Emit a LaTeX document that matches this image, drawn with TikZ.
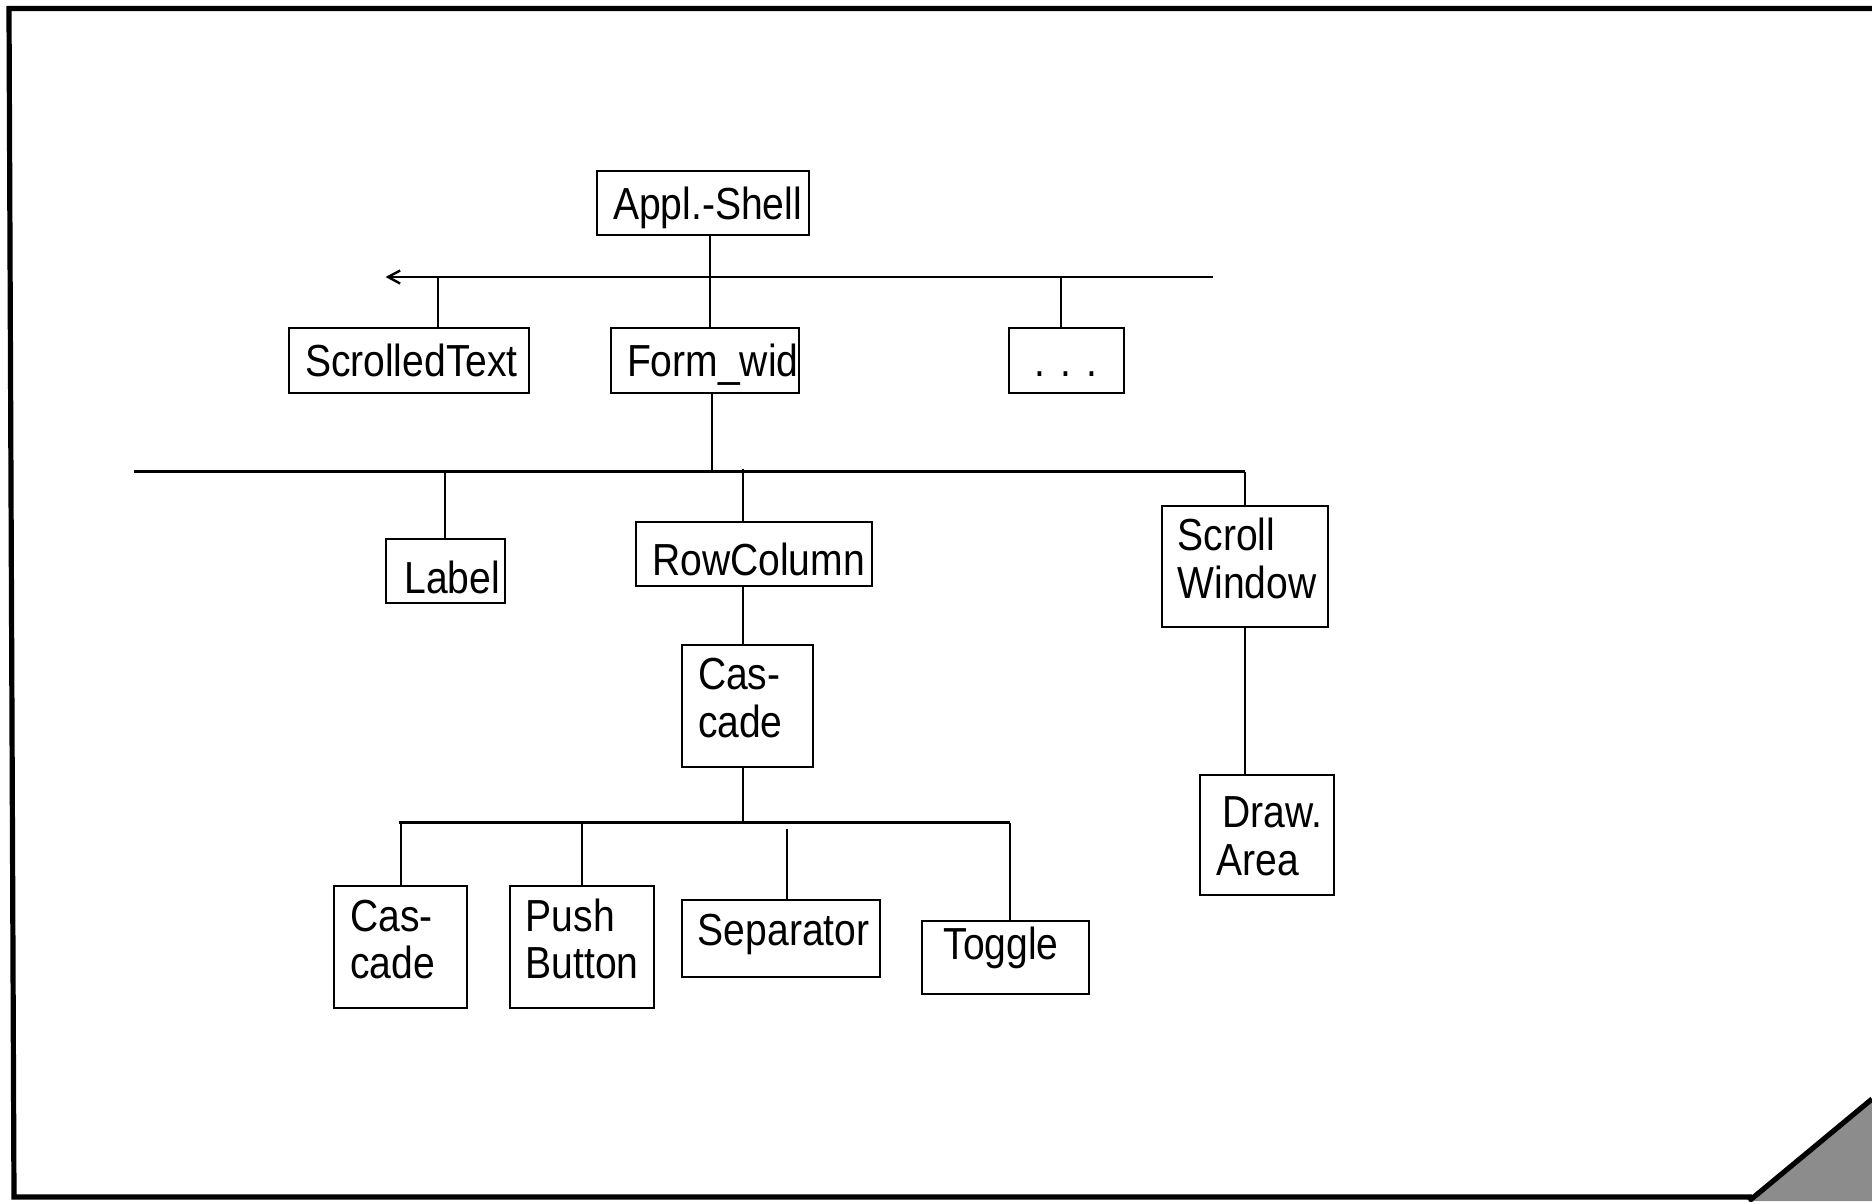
\documentclass[tikz,border=0pt]{standalone}
\usepackage{fontspec}
\setmainfont{Liberation Sans}[FakeStretch=0.87]
\usetikzlibrary{arrows.meta}
\newcommand\wfont{\fontsize{22.45pt}{23.9pt}\selectfont\hyphenpenalty=10000\exhyphenpenalty=10000}

\begin{document}
\begin{tikzpicture}[x=0.5pt,y=0.5pt,yscale=-1,xscale=1,
  wbox/.style={draw, line width=1pt, align=left, font=\wfont, inner xsep=8pt, inner ysep=0pt,
    text height=16.4pt, text depth=0.3pt},
  twol/.style={text depth=32.3pt},
  tline/.style={line width=1pt},
  bus/.style={line width=1.2pt}]
  \useasboundingbox (0,0) rectangle (1872,1201);

  %Shape: Frame
  \draw [line width=2.6pt] (1872,8.5) -- (9,8.5) -- (14,1197) -- (1752,1197) ;
  %Shape: folded corner
  \fill [color={rgb, 255:red, 140; green, 140; blue, 140 }] (1749,1201) -- (1872,1099) -- (1872,1201) -- cycle ;
  \draw [line width=2.6pt] (1749,1201) -- (1872,1099) ;

  % Text Node
  \node [wbox, text width=90pt, minimum height=32.25pt] (appl) at (703,203) {Appl.-Shell};
  \node [wbox, text width=104pt, minimum height=32.5pt] (scrolled) at (409,360.5) {ScrolledText};
  \node [wbox, text width=78pt, minimum height=32.5pt] (form) at (705,360.5) {Form\_wid};
  \node [wbox, text width=41.5pt, minimum height=32.5pt, align=center] (dots) at (1066,360.5) {.\ .\ .};
  \node [wbox, text width=43.5pt, minimum height=32.25pt, text height=23pt] (label) at (445,571) {\hspace*{1.5pt}Label};
  \node [wbox, text width=101.75pt, minimum height=32pt, text height=21.8pt] (rowcol) at (754,554) {RowColumn};
  \node [wbox, twol, text width=67pt, minimum height=60.5pt] (scrollw) at (1244.6,566.5) {Scroll\\Window};
  \node [wbox, text width=50.8pt, minimum height=60.25pt, text depth=24.2pt] (drawa) at (1267,835) {\hspace*{3pt}Draw.\\Area};
  \node [wbox, twol, text width=49.5pt, minimum height=61pt] (casc) at (747.5,705.6) {Cas-\\cade};
  \node [wbox, twol, text width=50.25pt, minimum height=61pt] (cascb) at (400.5,947) {Cas-\\cade};
  \node [wbox, twol, text width=56.25pt, minimum height=61pt] (push) at (582,947) {Push\\Button};
  \node [wbox, text width=83pt, minimum height=38.2pt, text depth=9.3pt] (sep) at (780.8,938.3) {Separator};
  \node [wbox, text width=67.5pt, minimum height=36.5pt, text depth=13.5pt] (toggle) at (1005,957) {\hspace*{3pt}Toggle};

  %Straight Lines
  \coordinate (b1l) at (385.6,277);
  \coordinate (b1r) at (1213,277);
  \coordinate (b2l) at (133.7,471.6);
  \coordinate (b2r) at (1245,471.6);
  \coordinate (b3l) at (398.8,822.6);
  \coordinate (b3r) at (1010,822.6);
  \coordinate (st1) at ([xshift=14.5pt]scrolled.north);
  \coordinate (st2) at ([xshift=3.5pt]appl.south);
  \coordinate (st3) at ([xshift=3.5pt]form.south);
  \coordinate (st4) at ([xshift=-2.5pt]dots.north);
  \coordinate (st5) at ([xshift=-2.5pt]casc.north);
  \coordinate (st6) at ([xshift=3pt]sep.north);
  \coordinate (st7) at ([xshift=2.5pt]toggle.north);

  \draw [bus, -{Straight Barb[length=6pt,width=6.5pt]}] (b1r) -- (b1l) ;
  \draw [bus] (b2l) -- (b2r) ;
  \draw [bus] (b3l) -- (b3r) ;

  \draw [tline] (st2) -- (st2 |- form.north) ;
  \draw [tline] (st1) -- (st1 |- b1l) ;
  \draw [tline] (st4) -- (st4 |- b1l) ;
  \draw [tline] (st3) -- (st3 |- b2l) ;
  \draw [tline] (label.north) -- (label.north |- b2l) ;
  \draw [tline] (st5 |- rowcol.north) -- (st5 |- b2l) -- ++(0,-3) ;
  \draw [tline] (scrollw.north) -- (scrollw.north |- b2r) ;
  \draw [tline] (st5 |- rowcol.south) -- (st5) ;
  \draw [tline] (scrollw.south) -- (scrollw.south |- drawa.north) ;
  \draw [tline] (st5 |- casc.south) -- (st5 |- b3l) ;
  \draw [tline] (cascb.north) -- (cascb.north |- b3l) ;
  \draw [tline] (push.north) -- (push.north |- b3l) ;
  \draw [tline] (st6) -- ++(0,-70) ;
  \draw [tline] (st7) -- (st7 |- b3r) ;

\end{tikzpicture}
\end{document}
